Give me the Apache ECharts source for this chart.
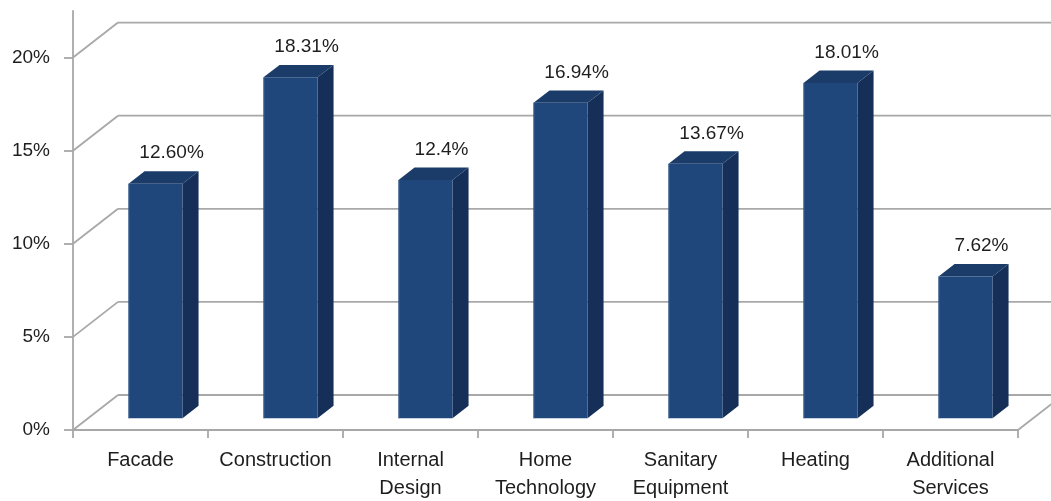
<!DOCTYPE html>
<html><head><meta charset="utf-8">
<script src="https://cdn.jsdelivr.net/npm/echarts@6/dist/echarts.min.js"></script>
<style>html,body{margin:0;padding:0;background:#fff}#c{width:1051px;height:501px}</style>
</head><body><div id="c"></div>
<script>
// ---- data ----
const categories = ['Facade', 'Construction', 'Internal\nDesign', 'Home\nTechnology', 'Sanitary\nEquipment', 'Heating', 'Additional\nServices'];
const values = [12.60, 18.31, 12.8, 16.94, 13.67, 18.01, 7.62];
const valueLabels = ['12.60%', '18.31%', '12.4%', '16.94%', '13.67%', '18.01%', '7.62%'];
const yTicks = [0, 5, 10, 15, 20];
const yMax = 22.5;

// ---- styling ----
const DX = 45, DY = -35;      // depth offset of the 3D box
const F1 = 0.334, F2 = 0.69;  // bar depth range (fraction of box depth)
const BAR_W = 0.4;            // bar width as fraction of category band
const GRID = '#a8a8a8';
const FRONT = '#20477b', TOP = '#1b3b69', SIDE = '#152f58';
const FONT = 'Liberation Sans, Arial, sans-serif';
const TXT = '#1e1e1e';

function seg(x1, y1, x2, y2) {
  return { type: 'line', shape: { x1, y1, x2, y2 }, style: { stroke: GRID, lineWidth: 1.8 } };
}

function renderFrame(params, api) {
  const cs = params.coordSys;
  const x0 = cs.x, x1 = cs.x + cs.width;
  const children = [];
  yTicks.forEach(v => {
    const y = api.coord([0, v])[1];
    children.push(seg(x0, y, x0 + DX, y + DY));
    children.push(seg(x0 + DX, y + DY, x1 + DX, y + DY));
  });
  const yb = api.coord([0, 0])[1];
  children.push(seg(x1, yb, x1 + DX, yb + DY));
  return { type: 'group', children };
}

function renderBar(params, api) {
  const i = api.value(0), v = api.value(1);
  const band = api.size([1, 0])[0];
  const w = band * BAR_W;
  const c = api.coord([i, v]);
  const b = api.coord([i, 0]);
  const ox = DX * F1, oy = DY * F1;
  const dx = DX * (F2 - F1), dy = DY * (F2 - F1);
  const xl = c[0] - w / 2 + ox, xr = c[0] + w / 2 + ox;
  const yt = c[1] + oy, yb = b[1] + oy;
  return {
    type: 'group', children: [
      { type: 'polygon', shape: { points: [[xr, yt], [xr + dx, yt + dy], [xr + dx, yb + dy], [xr, yb]] }, style: { fill: SIDE } },
      { type: 'polygon', shape: { points: [[xl, yt], [xr, yt], [xr + dx, yt + dy], [xl + dx, yt + dy]] }, style: { fill: TOP } },
      { type: 'rect', shape: { x: xl, y: yt, width: w, height: yb - yt }, style: { fill: FRONT } },
      { type: 'line', shape: { x1: xl + 0.5, y1: yt, x2: xl + 0.5, y2: yb }, style: { stroke: '#3a5f92', lineWidth: 1 } },
      { type: 'text', style: { text: valueLabels[i], x: c[0] + DX * F2, y: yt + dy - 18, align: 'center', verticalAlign: 'middle', font: '19px ' + FONT, fill: TXT } }
    ]
  };
}

const chart = echarts.init(document.getElementById('c'), null, { renderer: 'canvas' });
chart.setOption({
  animation: false,
  backgroundColor: '#fff',
  grid: { left: 73, right: 33, top: 11, bottom: 71, containLabel: false, outerBoundsMode: 'none' },
  xAxis: {
    type: 'category', data: categories, boundaryGap: true,
    axisLine: { show: true, lineStyle: { color: GRID, width: 1.8 } },
    axisTick: { show: true, length: 8, lineStyle: { color: GRID, width: 1.8 } },
    axisLabel: { interval: 0, fontSize: 20, lineHeight: 28, margin: 16, color: TXT, fontFamily: FONT },
    splitLine: { show: false }
  },
  yAxis: {
    type: 'value', min: 0, max: yMax, interval: 5,
    axisLine: { show: true, lineStyle: { color: GRID, width: 1.8 } },
    axisTick: { show: true, length: 9, customValues: yTicks, lineStyle: { color: GRID, width: 1.8 } },
    axisLabel: { customValues: yTicks, formatter: '{value}%', fontSize: 19, margin: 23, color: TXT, fontFamily: FONT },
    splitLine: { show: false }
  },
  series: [
    { type: 'custom', clip: false, renderItem: renderFrame, data: [[0, 0]], silent: true, z: 1 },
    { type: 'custom', clip: false, renderItem: renderBar, data: values.map((v, i) => [i, v]), z: 2 }
  ]
});
</script>
</body></html>
